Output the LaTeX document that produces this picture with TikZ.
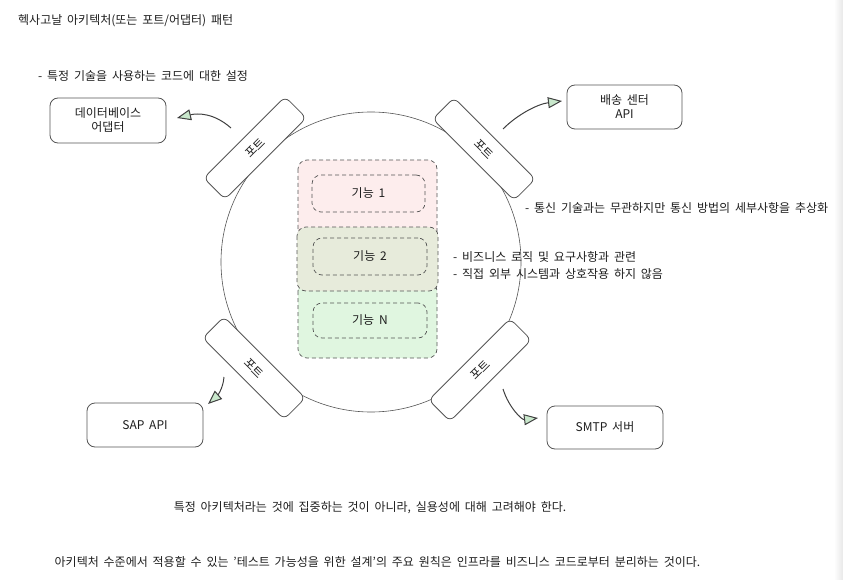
\documentclass[tikz,border=0pt]{standalone}
\usepackage{fontspec}
\setmainfont{Noto Sans CJK KR}[WordSpace=1.8]
\usetikzlibrary{arrows.meta}
\definecolor{ink}{HTML}{1E1E1E}
\definecolor{edge}{HTML}{555555}
\definecolor{pinkfill}{HTML}{FDEDED}
\definecolor{greenfill}{HTML}{E0F6E0}
\definecolor{midfill}{HTML}{E7EBDB}
\definecolor{headgreen}{HTML}{C9E8CC}
\begin{document}
\begin{tikzpicture}[x=1pt,y=-1pt,
  every node/.style={font=\fontsize{12}{15}\selectfont, text=ink},
  extbox/.style={draw=edge, line width=0.8pt, rounded corners=8pt, fill=white, align=center, inner sep=0pt},
  portbox/.style={draw=edge, line width=0.8pt, rounded corners=6pt, fill=white, minimum width=115pt, minimum height=30pt, inner sep=0pt},
  dashbox/.style={draw=edge, line width=0.7pt, dash pattern=on 4pt off 3pt, rounded corners=9pt},
  label/.style={anchor=west, inner sep=0pt},
  conn/.style={draw=ink!85, line width=1pt, -{Triangle[length=14pt,width=11pt,fill=headgreen]}}
]
\useasboundingbox (0,0) rectangle (843,580);
\shade[left color=white, right color=black!9] (834,0) rectangle (843,580);

% hexagon circle
\coordinate (hexc) at (371,262);
\draw[edge, line width=0.6pt] (hexc) circle[radius=150pt];

% feature boxes
\draw[dashbox, fill=pinkfill] (298,160) rectangle (437,240);
\draw[dashbox, fill=greenfill] (298,282) rectangle (437,358);
\draw[dashbox, fill=midfill] (297,227) rectangle (438,291);
\node[dashbox, minimum width=113pt, minimum height=37pt] (f1) at (368.5,193.5) {기능 1};
\node[dashbox, minimum width=114pt, minimum height=37pt] (f2) at (370,256.5) {기능 2};
\node[dashbox, minimum width=114pt, minimum height=35pt] (fn) at (370,320.5) {기능 \textit{N}};

% ports
\node[portbox, rotate=45] (p1) at (255,148) {포트};
\node[portbox, rotate=-45] (p2) at (484,149) {포트};
\node[portbox, rotate=-45] (p3) at (254,368) {포트};
\node[portbox, rotate=45] (p4) at (480,370) {포트};

% external boxes
\node[extbox, minimum width=116pt, minimum height=45pt] (db) at (108,120.5) {데이터베이스\\[-1pt]어댑터};
\node[extbox, minimum width=115pt, minimum height=44pt] (ship) at (624.5,107) {배송 센터\\[-1pt]API};
\node[extbox, minimum width=116pt, minimum height=44pt] (sap) at (145,425) {SAP API};
\node[extbox, minimum width=116pt, minimum height=43pt] (smtp) at (605,427.5) {SMTP 서버};

% connectors
\coordinate (s1) at (231,128);
\coordinate (t1) at (177,118);
\coordinate (s2) at (503,129);
\coordinate (t2) at (562,101);
\coordinate (s3) at (224,377);
\coordinate (t3) at (208,404);
\coordinate (s4) at (503,389);
\coordinate (t4) at (538,418);
\draw[conn] (s1) .. controls (214,113) and (198,113) .. (t1);
\draw[conn] (s2) .. controls (518,114) and (538,104) .. (t2);
\draw[conn] (s3) .. controls (223,390) and (216,397) .. (t3);
\draw[conn] (s4) .. controls (509,408) and (522,420) .. (t4);

% texts
\node[label] (title) at (18,21) {헥사고날 아키텍처(또는 포트/어댑터) 패턴};
\node[label] (n1) at (38,76) {- 특정 기술을 사용하는 코드에 대한 설정};
\node[label] (n2) at (525,208) {- 통신 기술과는 무관하지만 통신 방법의 세부사항을 추상화};
\node[label] (n3) at (453,257) {- 비즈니스 로직 및 요구사항과 관련};
\node[label] (n4) at (453,274) {- 직접 외부 시스템과 상호작용 하지 않음};
\node (b1) at (370,508) {특정 아키텍처라는 것에 집중하는 것이 아니라, 실용성에 대해 고려해야 한다.};
\node (b2) at (377.5,562) {아키텍처 수준에서 적용할 수 있는 '테스트 가능성을 위한 설계'의 주요 원칙은 인프라를 비즈니스 코드로부터 분리하는 것이다.};
\end{tikzpicture}
\end{document}
